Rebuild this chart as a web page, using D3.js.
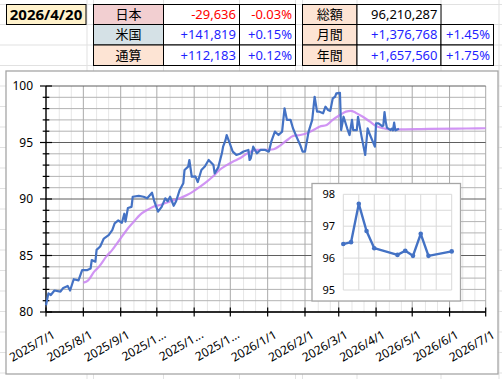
<!DOCTYPE html>
<html><head><meta charset="utf-8">
<script src="https://cdn.jsdelivr.net/npm/d3@7"></script>
<style>
html,body{margin:0;padding:0;background:#fff;}
svg{display:block;font-family:"Noto Sans","Noto Sans CJK JP",sans-serif;}
</style></head>
<body>
<svg id="c" width="502" height="379"></svg>
<script>
// ---------- DATA ----------
const headerDate = "2026/4/20";
const tableLeftLabels = ["日本", "米国", "通算"];
const tableLeftValues = ["-29,636", "+141,819", "+112,183"];
const tableLeftPcts = ["-0.03%", "+0.15%", "+0.12%"];
const tableRightLabels = ["総額", "月間", "年間"];
const tableRightValues = ["96,210,287", "+1,376,768", "+1,657,560"];
const tableRightPcts = ["", "+1.45%", "+1.75%"];

const xTickLabels = ["2025/7/1","2025/8/1","2025/9/1","2025/1...","2025/1...","2025/1...","2026/1/1","2026/2/1","2026/3/1","2026/4/1","2026/5/1","2026/6/1","2026/7/1"];
const yTicks = [80, 85, 90, 95, 100];

const mainDates = ["2025-07-01","2025-07-03","2025-07-05","2025-07-08","2025-07-13","2025-07-15","2025-07-19","2025-07-21","2025-07-24","2025-07-28","2025-07-31",
"2025-08-04","2025-08-07","2025-08-08","2025-08-11","2025-08-12","2025-08-15","2025-08-18","2025-08-22","2025-08-25","2025-08-27","2025-08-30",
"2025-09-02","2025-09-04","2025-09-05","2025-09-07","2025-09-10","2025-09-11","2025-09-16","2025-09-20","2025-09-23","2025-09-27","2025-09-29",
"2025-10-02","2025-10-05","2025-10-08","2025-10-10","2025-10-12","2025-10-15","2025-10-17","2025-10-20","2025-10-23","2025-10-24","2025-10-27","2025-10-28","2025-10-30",
"2025-11-02","2025-11-04","2025-11-07","2025-11-10","2025-11-13","2025-11-17","2025-11-18","2025-11-21","2025-11-24","2025-11-25","2025-11-27","2025-11-28",
"2025-12-01","2025-12-03","2025-12-06","2025-12-09","2025-12-12","2025-12-16","2025-12-17","2025-12-18","2025-12-20","2025-12-23","2025-12-26","2025-12-30",
"2026-01-02","2026-01-04","2026-01-07","2026-01-10","2026-01-13","2026-01-14","2026-01-15","2026-01-17","2026-01-20","2026-01-22","2026-01-25","2026-01-28","2026-01-30",
"2026-02-01","2026-02-04","2026-02-07","2026-02-09","2026-02-11","2026-02-13","2026-02-16","2026-02-18","2026-02-20","2026-02-22","2026-02-24","2026-02-26","2026-02-27",
"2026-03-02","2026-03-03","2026-03-05","2026-03-08","2026-03-10","2026-03-12","2026-03-13","2026-03-16","2026-03-17","2026-03-20","2026-03-23","2026-03-25","2026-03-27","2026-03-31",
"2026-04-01","2026-04-03","2026-04-06","2026-04-07","2026-04-08","2026-04-09","2026-04-10","2026-04-13","2026-04-14","2026-04-15","2026-04-16","2026-04-17","2026-04-20"];
const mainValues = [80.6,81.65,81.5,81.9,81.8,82.1,82.3,81.9,82.9,82.8,83.7,
83.7,83.85,84.6,84.45,85.5,85.8,86.5,86.8,87.25,87.85,88.1,
87.9,88.7,88.0,89.2,89.3,90.2,90.27,90.2,90.06,90.56,89.76,
88.88,89.3,90.06,89.8,90.2,89.4,89.8,90.8,91.4,92.57,92.86,93.45,91.97,
92.0,91.5,92.57,92.9,93.45,93.0,92.27,92.8,94.04,94.63,95.2,95.66,
94.78,94.19,93.9,94.0,94.2,94.34,93.45,93.6,94.63,94.04,94.34,94.34,
94.19,95.07,95.96,95.66,95.96,97.0,98.03,97.0,97.0,96.26,95.5,94.78,94.19,
94.19,95.96,97.0,99.05,97.73,97.73,97.58,98.17,97.88,97.8,98.9,99.05,99.35,
99.4,96.1,97.28,96.26,95.66,97.0,96.1,96.1,97.28,95.5,93.9,96.26,95.66,94.63,
96.7,96.7,96.44,96.5,97.7,96.85,96.31,96.1,96.23,96.07,96.76,96.07,96.21];

const maDates = ["2025-08-01","2025-08-05","2025-08-10","2025-08-14","2025-08-20","2025-08-25","2025-08-31",
"2025-09-06","2025-09-12","2025-09-17","2025-09-23","2025-09-28","2025-10-04","2025-10-09","2025-10-15","2025-10-20","2025-10-26","2025-10-31",
"2025-11-06","2025-11-11","2025-11-17","2025-11-22","2025-11-28","2025-12-03","2025-12-09","2025-12-16","2025-12-23","2025-12-31",
"2026-01-06","2026-01-11","2026-01-17","2026-01-22","2026-01-28","2026-02-02","2026-02-08","2026-02-13","2026-02-19","2026-02-24",
"2026-03-02","2026-03-07","2026-03-11","2026-03-15","2026-03-21","2026-03-27","2026-04-01","2026-04-07","2026-04-12","2026-04-18",
"2026-05-15","2026-06-15","2026-07-01"];
const maValues = [82.6,82.8,83.57,84.0,84.9,85.5,86.37,
87.26,88.0,88.6,89.03,89.32,89.47,89.67,89.9,90.06,90.35,90.65,
91.1,91.5,92.03,92.57,93.0,93.3,93.6,94.1,94.35,94.34,
94.4,94.7,95.2,95.57,95.66,95.8,96.1,96.4,96.55,97.0,
97.43,97.73,97.8,97.64,97.28,96.84,96.46,96.26,96.16,96.16,
96.2,96.24,96.26];

const insetDates = ["2026-04-06","2026-04-07","2026-04-08","2026-04-09","2026-04-10","2026-04-13","2026-04-14","2026-04-15","2026-04-16","2026-04-17","2026-04-20"];
const insetValues = [96.44,96.5,97.7,96.85,96.31,96.1,96.23,96.07,96.76,96.07,96.21];
const insetYTicks = [95, 96, 97, 98];

// ---------- DRAW ----------
const parse = d3.timeParse("%Y-%m-%d");
const svg = d3.select("#c");
const FONT_BLUE = "#1f1fff", FONT_RED = "#ff0000";

// spreadsheet background grid
const colLines = [87, 93.5, 163.5, 239.5, 295.5, 302.5, 357, 441, 499];
const rowLines = [4.5, 24.5, 45, 65.5, 86, 106.5, 127, 147.5, 168, 188.5, 209, 229.5, 250, 270.5, 291, 311.5, 332, 352.5, 373];
const bg = svg.append("g");
colLines.forEach(x => bg.append("line").attr("x1", x).attr("x2", x).attr("y1", 0).attr("y2", 379).attr("stroke", "#e1e1e1").attr("stroke-width", 1));
rowLines.forEach(y => bg.append("line").attr("x1", 0).attr("x2", 502).attr("y1", y).attr("y2", y).attr("stroke", "#e1e1e1").attr("stroke-width", 1));

// header date cell
svg.append("rect").attr("x", 6.5).attr("y", 4.5).attr("width", 79.5).attr("height", 20).attr("fill", "#fff2cc").attr("stroke", "#000").attr("stroke-width", 1);
svg.append("text").attr("x", 46).attr("y", 14.5).attr("dy", "0.36em").attr("text-anchor", "middle")
  .attr("font-size", 15).attr("font-weight", "bold").attr("fill", "#000").text(headerDate);

function drawTable(cols, rows, labels, values, pcts, fills, valColors, pctColors, skipCell) {
  const g = svg.append("g");
  for (let r = 0; r < 3; r++) {
    for (let c = 0; c < 3; c++) {
      if (skipCell && skipCell[0] === r && skipCell[1] === c) continue;
      const x0 = cols[c], x1 = cols[c + 1], y0 = rows[r], y1 = rows[r + 1];
      g.append("rect").attr("x", x0).attr("y", y0).attr("width", x1 - x0).attr("height", y1 - y0)
        .attr("fill", c === 0 ? fills[r] : "#fff").attr("stroke", "#000").attr("stroke-width", 1);
      const cy = (y0 + y1) / 2;
      let txt, anchor, tx, col;
      if (c === 0) { txt = labels[r]; anchor = "middle"; tx = (x0 + x1) / 2; col = "#000"; }
      else if (c === 1) { txt = values[r]; anchor = "end"; tx = x1 - 3.5; col = valColors[r]; }
      else { txt = pcts[r]; anchor = "end"; tx = x1 - 3.5; col = pctColors[r]; }
      g.append("text").attr("x", tx).attr("y", cy).attr("dy", "0.36em").attr("text-anchor", anchor)
        .attr("font-size", 13).attr("fill", col).text(txt);
    }
  }
}
drawTable([93.5, 163.5, 239.5, 295.5], [4.5, 24.5, 45, 65.5], tableLeftLabels, tableLeftValues, tableLeftPcts,
  ["#f2cfd1", "#d5e1e6", "#fde4d4"], [FONT_RED, FONT_BLUE, FONT_BLUE], [FONT_RED, FONT_BLUE, FONT_BLUE], null);
drawTable([302.5, 357, 441, 493.5], [4.5, 24.5, 45, 65.5], tableRightLabels, tableRightValues, tableRightPcts,
  ["#fde4d4", "#fde4d4", "#fde4d4"], ["#000", FONT_BLUE, FONT_BLUE], ["#000", FONT_BLUE, FONT_BLUE], [0, 2]);

// chart frame
svg.append("rect").attr("x", 6).attr("y", 71).attr("width", 492).attr("height", 303)
  .attr("fill", "#fff").attr("stroke", "#a6a6a6").attr("stroke-width", 1.3);

const x = d3.scaleTime().domain([parse("2025-07-01"), parse("2026-07-01")]).range([46, 485.7]);
const y = d3.scaleLinear().domain([80, 100]).range([312, 86]);
const months = d3.timeMonth.range(parse("2025-07-01"), d3.timeDay.offset(parse("2026-07-01"), 1));

const grid = svg.append("g");
// minor vertical grid (12th and 22nd of each month)
months.slice(0, -1).forEach(m => {
  [11, 21].forEach(off => {
    const d = d3.timeDay.offset(m, off);
    grid.append("line").attr("x1", x(d)).attr("x2", x(d)).attr("y1", y(100)).attr("y2", y(80)).attr("stroke", "#e6e6e6").attr("stroke-width", 1);
  });
});
// minor horizontal grid
d3.range(81, 100).forEach(v => {
  if (v % 5 === 0) return;
  grid.append("line").attr("x1", x.range()[0]).attr("x2", x.range()[1]).attr("y1", y(v)).attr("y2", y(v)).attr("stroke", "#b3b3b3").attr("stroke-width", 1);
});
// major vertical grid
months.forEach(m => {
  grid.append("line").attr("x1", x(m)).attr("x2", x(m)).attr("y1", y(100)).attr("y2", y(80)).attr("stroke", "#aaaaaa").attr("stroke-width", 1);
});
// major horizontal
yTicks.forEach(v => {
  grid.append("line").attr("x1", x.range()[0]).attr("x2", x.range()[1]).attr("y1", y(v)).attr("y2", y(v)).attr("stroke", "#5f5f5f").attr("stroke-width", 1);
});

// y axis
const yAxisG = svg.append("g").attr("transform", `translate(${x.range()[0]},0)`);
yAxisG.append("line").attr("x1", 0).attr("x2", 0).attr("y1", y(100)).attr("y2", y(80)).attr("stroke", "#000").attr("stroke-width", 1.3);
d3.range(80, 101).forEach(v => {
  const major = v % 5 === 0;
  yAxisG.append("line").attr("x1", major ? -6 : -3.3).attr("x2", major ? 6 : 3.3).attr("y1", y(v)).attr("y2", y(v)).attr("stroke", "#000").attr("stroke-width", 1.2);
});
yTicks.forEach(v => {
  yAxisG.append("text").attr("x", -13).attr("y", y(v)).attr("dy", "0.36em").attr("text-anchor", "end").attr("font-size", 12).attr("fill", "#000").text(v);
});

// x axis
const xAxisG = svg.append("g");
xAxisG.append("line").attr("x1", x.range()[0]).attr("x2", x.range()[1]).attr("y1", y(80)).attr("y2", y(80)).attr("stroke", "#000").attr("stroke-width", 1.3);
months.forEach((m, i) => {
  xAxisG.append("line").attr("x1", x(m)).attr("x2", x(m)).attr("y1", y(80) - 4.5).attr("y2", y(80) + 4.5).attr("stroke", "#000").attr("stroke-width", 1.2);
  const tx = x(m) + 10, ty = 337;
  xAxisG.append("text").attr("transform", `translate(${tx},${ty}) rotate(-30)`).attr("text-anchor", "end")
    .attr("font-size", 12).attr("fill", "#000").text(xTickLabels[i]);
});

// series
const maData = maDates.map((d, i) => ({ d: parse(d), v: maValues[i] }));
const mainData = mainDates.map((d, i) => ({ d: parse(d), v: mainValues[i] }));
const line = d3.line().x(p => x(p.d)).y(p => y(p.v));
svg.append("path").datum(maData).attr("d", line.curve(d3.curveMonotoneX)).attr("fill", "none")
  .attr("stroke", "#c983f2").attr("stroke-opacity", 0.85).attr("stroke-width", 2.2);
svg.append("path").datum(mainData).attr("d", d3.line().x(p => x(p.d)).y(p => y(p.v))).attr("fill", "none")
  .attr("stroke", "#4472c4").attr("stroke-width", 2.2).attr("stroke-linejoin", "round");

// inset
const inset = svg.append("g");
inset.append("rect").attr("x", 312).attr("y", 183.5).attr("width", 148.5).attr("height", 117.5)
  .attr("fill", "#fff").attr("stroke", "#a6a6a6").attr("stroke-width", 1.3);
const ix = d3.scaleTime().domain([parse(insetDates[0]), parse(insetDates[insetDates.length - 1])]).range([343.3, 451.7]);
const iy = d3.scaleLinear().domain([95, 98]).range([290, 194.3]);
d3.timeDay.every(2).range ? null : null;
const gridDays = d3.range(0, 15, 2).map(k => d3.timeDay.offset(parse(insetDates[0]), k));
gridDays.forEach(d => inset.append("line").attr("x1", ix(d)).attr("x2", ix(d)).attr("y1", iy(98)).attr("y2", iy(95)).attr("stroke", "#d9d9d9").attr("stroke-width", 1));
d3.range(95, 98.01, 0.5).forEach(v => inset.append("line").attr("x1", ix.range()[0]).attr("x2", ix.range()[1]).attr("y1", iy(v)).attr("y2", iy(v)).attr("stroke", "#d9d9d9").attr("stroke-width", 1));
insetYTicks.forEach(v => inset.append("text").attr("x", 335).attr("y", iy(v)).attr("dy", "0.36em").attr("text-anchor", "end").attr("font-size", 11).attr("fill", "#000").text(v));
const insetData = insetDates.map((d, i) => ({ d: parse(d), v: insetValues[i] }));
inset.append("path").datum(insetData).attr("d", d3.line().x(p => ix(p.d)).y(p => iy(p.v))).attr("fill", "none")
  .attr("stroke", "#4472c4").attr("stroke-width", 2.4).attr("stroke-linejoin", "round");
inset.selectAll("circle.m").data(insetData).enter().append("circle").attr("cx", p => ix(p.d)).attr("cy", p => iy(p.v)).attr("r", 2.3).attr("fill", "#4472c4");
</script>
</body></html>
